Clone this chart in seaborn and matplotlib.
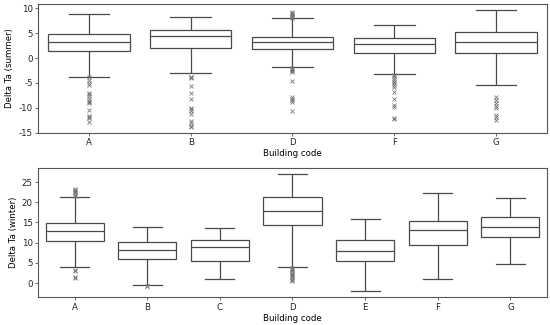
import pandas as pd
import matplotlib
matplotlib.use("Agg")
import matplotlib.pyplot as plt
import seaborn as sns

# box statistics: whisker low, Q1, median, Q3, whisker high
summer_codes = ['A', 'B', 'D', 'F', 'G']
summer_low = [-3.75, -2.9, -1.7, -3.2, -5.4]
summer_q1 = [1.4, 2.1, 1.8, 1.1, 1.0]
summer_med = [3.3, 4.4, 3.3, 2.9, 3.2]
summer_q3 = [4.9, 5.6, 4.3, 4.0, 5.3]
summer_high = [8.9, 8.2, 8.0, 6.6, 9.7]
summer_outliers = [
    [-3.9, -4.4, -5.0, -5.4, -7.1, -7.3, -7.6, -8.3, -8.6, -8.8, -9.1, -10.5, -11.7, -11.9, -12.1, -12.8],
    [-3.75, -3.9, -4.1, -5.6, -7.0, -8.3, -10.1, -10.3, -10.6, -11.3, -12.6, -13.1, -13.6, -13.8],
    [8.1, 8.3, 8.5, 8.7, 8.9, 9.1, 9.3, -2.0, -2.2, -2.4, -2.6, -2.7, -4.6, -7.8, -8.2, -8.5, -8.8, -10.7],
    [-3.4, -3.7, -4.1, -4.4, -4.8, -5.1, -5.4, -5.9, -6.8, -8.3, -9.5, -9.9, -12.1, -12.3],
    [-7.9, -8.4, -9.1, -9.7, -10.1, -11.5, -11.9, -12.5],
]

winter_codes = ['A', 'B', 'C', 'D', 'E', 'F', 'G']
winter_low = [4.0, -0.5, 0.9, 4.0, -2.0, 0.9, 4.6]
winter_q1 = [10.45, 5.9, 5.4, 14.35, 5.4, 9.5, 11.3]
winter_med = [12.9, 8.2, 8.9, 17.9, 7.8, 13.1, 13.8]
winter_q3 = [14.85, 10.2, 10.6, 21.3, 10.7, 15.4, 16.3]
winter_high = [21.3, 13.9, 13.6, 27.1, 15.8, 22.4, 21.1]
winter_outliers = [
    [21.6, 21.9, 22.2, 22.5, 22.8, 23.1, 23.3, 3.2, 2.9, 1.6, 1.3],
    [-0.7, -0.8],
    [],
    [3.8, 3.5, 3.2, 2.9, 2.6, 2.3, 2.0, 1.7, 1.4, 1.1, 0.8, 0.6],
    [],
    [],
    [],
]


def sample_table(codes, low, q1, med, q3, high, outliers, col):
    # samples whose quartiles / whiskers reproduce the read-off statistics
    rows = []
    for i, code in enumerate(codes):
        vals = [low[i]] + [q1[i]] * 40 + [med[i]] * 40 + [q3[i]] * 40 + [high[i]] + outliers[i]
        rows += [(code, v) for v in vals]
    return pd.DataFrame(rows, columns=['Building code', col])


summer = sample_table(summer_codes, summer_low, summer_q1, summer_med, summer_q3,
                      summer_high, summer_outliers, 'Delta Ta (summer)')
winter = sample_table(winter_codes, winter_low, winter_q1, winter_med, winter_q3,
                      winter_high, winter_outliers, 'Delta Ta (winter)')

plt.rcParams['font.family'] = ['DejaVu Sans']
plt.rcParams['font.size'] = 6.2
plt.rcParams['axes.unicode_minus'] = False

fig = plt.figure(figsize=(5.5, 3.25), dpi=100)
ax1 = fig.add_axes([0.0696, 0.5917, 0.9244, 0.396])
ax2 = fig.add_axes([0.0696, 0.0852, 0.9244, 0.3988])

flier = dict(marker='x', markersize=3, markeredgewidth=0.6,
             markeredgecolor='#777777', markerfacecolor='none')
box_kw = dict(color='white', linecolor='#4a4a4a', linewidth=0.9, width=0.8,
              flierprops=flier)

sns.boxplot(data=summer, x='Building code', y='Delta Ta (summer)', order=summer_codes,
            ax=ax1, **box_kw)
sns.boxplot(data=winter, x='Building code', y='Delta Ta (winter)', order=winter_codes,
            ax=ax2, **box_kw)

ax1.set_ylim(-15, 10.87)
ax1.set_yticks([-15, -10, -5, 0, 5, 10])
ax2.set_ylim(-3.54, 28.54)
ax2.set_yticks([0, 5, 10, 15, 20, 25])

for ax in (ax1, ax2):
    for s in ax.spines.values():
        s.set_color('#555555')
        s.set_linewidth(0.8)
    ax.tick_params(length=2.5, width=0.6, pad=1.5, colors='#555555',
                   labelcolor='#222222', labelsize=6.2)
    ax.set_xlabel('Building code', fontsize=6.2, labelpad=1.5)
    ax.yaxis.label.set_size(6.2)
    ax.yaxis.labelpad = 3

fig.savefig('out.png', dpi=100)
